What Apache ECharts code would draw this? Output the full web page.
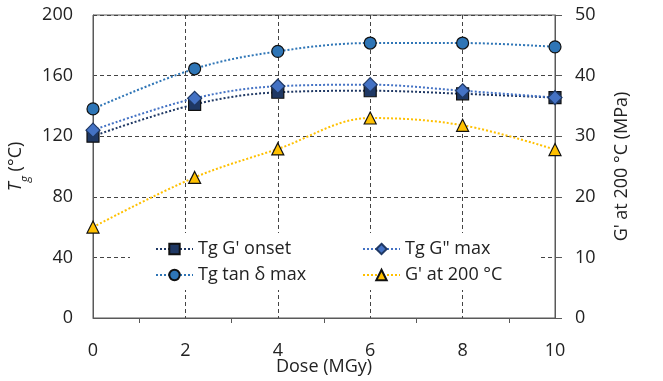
<!DOCTYPE html>
<html>
<head>
<meta charset="utf-8">
<script src="https://cdn.jsdelivr.net/npm/echarts@6/dist/echarts.min.js"></script>
<style>
  html, body { margin: 0; padding: 0; background: #fff; }
  #chart { width: 663px; height: 381px; }
</style>
</head>
<body>
<div id="chart"></div>
<script>
// values
const dose = [0, 2.2, 4, 6, 8, 10]
const tgOnset = [120, 141, 149, 150, 148, 145.5]
const tgG2Max = [124, 145, 153, 154, 150, 145.5]
const tgTanD = [138, 164.5, 176, 181.5, 181.5, 179]
const gAt200 = [15, 23.2, 27.9, 33, 31.8, 27.8]

const font = 'Open Sans'
const ink = '#222'
const axisCol = '#595959'

const pairs = arr => dose.map((d, i) => [d, arr[i]])

const mkSeries = (name, data, symbol, fill, lineCol, yIdx, border) => ({
  name,
  type: 'line',
  yAxisIndex: yIdx,
  data: pairs(data),
  smooth: 0.35,
  symbol,
  symbolSize: symbol === 'diamond' ? 14 : 12,
  itemStyle: { color: fill, borderColor: border || '#111', borderWidth: 1.2 },
  lineStyle: { color: lineCol, width: 2, type: [2, 2] },
  z: 3
})

const myChart = echarts.init(document.getElementById('chart'))
myChart.setOption({
  animation: false,
  textStyle: { fontFamily: font },
  grid: {
    left: 93, right: 108, top: 15, bottom: 63,
    outerBoundsMode: 'none', containLabel: false,
    show: true, borderColor: axisCol, borderWidth: 1
  },
  graphic: [{
    type: 'rect', z: 1,
    shape: { x: 130, y: 233, width: 410, height: 57 },
    style: { fill: '#fff' }
  }],
  legend: [
    {
      left: 155, top: 240, orient: 'vertical', itemGap: 8, itemWidth: 37, itemHeight: 13, padding: 0,
      textStyle: { fontFamily: font, fontSize: 18, color: ink },
      data: ['Tg G\' onset', 'Tg tan δ max']
    },
    {
      left: 362, top: 240, orient: 'vertical', itemGap: 8, itemWidth: 37, itemHeight: 13, padding: 0,
      textStyle: { fontFamily: font, fontSize: 18, color: ink },
      data: ['Tg G" max', 'G\' at 200 °C']
    }
  ],
  xAxis: {
    type: 'value', min: 0, max: 10, interval: 2,
    name: 'Dose (MGy)', nameLocation: 'middle', nameGap: 40, nameMoveOverlap: false,
    nameTextStyle: { fontSize: 18, color: ink },
    axisLine: { lineStyle: { color: axisCol } },
    axisTick: { show: false },
    minorTick: { show: true, splitNumber: 2, length: 5, lineStyle: { color: axisCol } },
    axisLabel: { fontSize: 18, color: ink, margin: 24 },
    splitLine: { show: true, lineStyle: { color: '#444', type: [4, 3] } }
  },
  yAxis: [
    {
      type: 'value', min: 0, max: 200, interval: 40,
      name: '{i|T}{s|g} (°C)', nameLocation: 'middle', nameGap: 44, nameRotate: 90,
      nameTextStyle: {
        fontSize: 18, color: ink,
        rich: {
          i: { fontStyle: 'italic', fontSize: 18, color: ink, lineHeight: 22 },
          s: { fontStyle: 'italic', fontSize: 12, color: ink, verticalAlign: 'bottom', lineHeight: 22, padding: [0, 0, -4, 0] }
        }
      },
      axisLine: { show: true, lineStyle: { color: axisCol } },
      axisTick: { show: false },
      axisLabel: { fontSize: 18, color: ink, margin: 20 },
      splitLine: { show: true, lineStyle: { color: '#444', type: [4, 3] } }
    },
    {
      type: 'value', min: 0, max: 50, interval: 10, position: 'right',
      name: 'G\' at 200 °C (MPa)', nameLocation: 'middle', nameGap: 58, nameRotate: 90,
      nameTextStyle: { fontSize: 18, color: ink },
      axisLine: { show: true, lineStyle: { color: axisCol } },
      axisTick: { show: true, length: 7, lineStyle: { color: axisCol } },
      axisLabel: { fontSize: 18, color: ink, margin: 20 },
      splitLine: { show: false }
    }
  ],
  series: [
    mkSeries('Tg G\' onset', tgOnset, 'rect', '#1f3864', '#1f3864', 0),
    mkSeries('Tg G" max', tgG2Max, 'diamond', '#4472c4', '#4472c4', 0, '#1f3864'),
    mkSeries('Tg tan δ max', tgTanD, 'circle', '#2e75b6', '#2e75b6', 0),
    mkSeries('G\' at 200 °C', gAt200, 'triangle', '#ffc000', '#ffc000', 1)
  ]
})
</script>
</body>
</html>
